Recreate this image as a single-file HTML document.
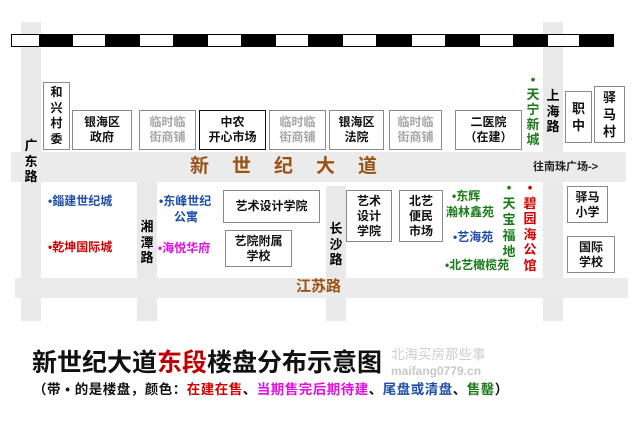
<!DOCTYPE html>
<html><head><meta charset="utf-8"><style>
body{margin:0;width:640px;height:434px;background:#fff;position:relative;overflow:hidden;font-family:"Liberation Sans","Noto Sans CJK SC",sans-serif;font-weight:bold}
div{position:absolute;box-sizing:border-box}
.r{background:#e9e9e9}
.b{border:1px solid #8a8a8a;background:#fff;font-size:12px;line-height:15px;text-align:center;display:flex;align-items:center;justify-content:center;color:#111}
.t{font-size:12px;line-height:15px;white-space:nowrap}
.v{font-size:13px;line-height:15.5px;text-align:center;width:20px}
.bl{color:#1f4ea8}.rd{color:#d00000}.gn{color:#1a7a1a}.mg{color:#e010e0}
</style></head><body>
<div class="r" style="left:21px;top:22px;width:20px;height:299px"></div>
<div class="r" style="left:543px;top:22px;width:20px;height:299px"></div>
<div class="r" style="left:137px;top:180px;width:20px;height:141px"></div>
<div class="r" style="left:326px;top:186px;width:20px;height:135px"></div>
<div class="r" style="left:11px;top:152px;width:615px;height:30px;background:#ebebeb"></div>
<div class="r" style="left:15px;top:278px;width:613px;height:20px;background:#ebebeb"></div>
<div style="left:11px;top:34px;width:603px;height:13px;background:#000"></div>
<div style="left:12px;top:35px;width:27px;height:11px;background:#fff"></div>
<div style="left:73px;top:35px;width:32px;height:11px;background:#fff"></div>
<div style="left:140px;top:35px;width:33px;height:11px;background:#fff"></div>
<div style="left:208px;top:35px;width:33px;height:11px;background:#fff"></div>
<div style="left:276px;top:35px;width:32px;height:11px;background:#fff"></div>
<div style="left:343px;top:35px;width:33px;height:11px;background:#fff"></div>
<div style="left:412px;top:35px;width:33px;height:11px;background:#fff"></div>
<div style="left:480px;top:35px;width:33px;height:11px;background:#fff"></div>
<div style="left:548px;top:35px;width:31px;height:11px;background:#fff"></div>
<div style="left:190px;top:155px;font-size:19px;line-height:24px;color:#9a5214;letter-spacing:23px;white-space:nowrap">新世纪大道</div>
<div style="left:296px;top:277px;font-size:15px;line-height:20px;color:#9a5214">江苏路</div>
<div class="v" style="left:21px;top:138px">广<br>东<br>路</div>
<div class="v" style="left:137px;top:219px">湘<br>潭<br>路</div>
<div class="v" style="left:326px;top:221px">长<br>沙<br>路</div>
<div class="v" style="left:543px;top:88px">上<br>海<br>路</div>
<div class="t" style="left:533px;top:160px;font-size:11px;color:#222">往南珠广场-&gt;</div>
<div class="b" style="left:43px;top:82px;width:27px;height:68px;line-height:15.5px">和<br>兴<br>村<br>委</div>
<div class="b" style="left:72px;top:110px;width:60px;height:40px">银海区<br>政府</div>
<div class="b" style="left:139px;top:110px;width:57px;height:40px;color:#a6a6a6">临时临<br>街商铺</div>
<div class="b" style="left:199px;top:110px;width:67px;height:40px;border-color:#111">中农<br>开心市场</div>
<div class="b" style="left:269px;top:110px;width:57px;height:40px;color:#a6a6a6">临时临<br>街商铺</div>
<div class="b" style="left:329px;top:110px;width:55px;height:40px">银海区<br>法院</div>
<div class="b" style="left:389px;top:110px;width:53px;height:40px;color:#a6a6a6">临时临<br>街商铺</div>
<div class="b" style="left:455px;top:110px;width:67px;height:40px">二医院<br>（在建）</div>
<div class="v gn" style="left:523px;top:72px;line-height:15px">•<br>天<br>宁<br>新<br>城</div>
<div class="b" style="left:565px;top:91px;width:27px;height:52px;font-size:13px;line-height:17px">职<br>中</div>
<div class="b" style="left:594px;top:86px;width:31px;height:57px;font-size:13px;line-height:17px">驿<br>马<br>村</div>
<div class="t bl" style="left:48px;top:194px">•錙建世纪城</div>
<div class="t rd" style="left:48px;top:240px">•乾坤国际城</div>
<div class="t bl" style="left:159px;top:194px">•东峰世纪</div>
<div class="t bl" style="left:174px;top:210px">公寓</div>
<div class="t mg" style="left:158px;top:241px">•海悦华府</div>
<div class="b" style="left:223px;top:190px;width:97px;height:33px">艺术设计学院</div>
<div class="b" style="left:225px;top:230px;width:67px;height:37px">艺院附属<br>学校</div>
<div class="b" style="left:346px;top:190px;width:46px;height:52px">艺术<br>设计<br>学院</div>
<div class="b" style="left:399px;top:190px;width:44px;height:52px">北艺<br>便民<br>市场</div>
<div class="t gn" style="left:452px;top:189px">•东辉</div>
<div class="t gn" style="left:446px;top:205px">瀚林鑫苑</div>
<div class="t bl" style="left:453px;top:230px">•艺海苑</div>
<div class="t gn" style="left:445px;top:258px">•北艺橄榄苑</div>
<div class="v gn" style="left:499px;top:180px;line-height:16px">•<br>天<br>宝<br>福<br>地</div>
<div class="v rd" style="left:520px;top:180px;line-height:15.5px">•<br>碧<br>园<br>海<br>公<br>馆</div>
<div class="b" style="left:567px;top:186px;width:41px;height:37px">驿马<br>小学</div>
<div class="b" style="left:567px;top:236px;width:48px;height:37px">国际<br>学校</div>
<div style="left:32px;top:348px;font-size:25px;line-height:30px;color:#111;white-space:nowrap">新世纪大道<span style="color:#c00000">东段</span>楼盘分布示意图</div>
<div style="left:391px;top:346px;font-size:13.5px;line-height:17px;color:#cfcfcf;font-weight:normal;white-space:nowrap">北海买房那些事</div>
<div style="left:391px;top:364px;font-size:12px;line-height:15px;color:#c8c8c8;white-space:nowrap">maifang0779.cn</div>
<div style="left:33px;top:381px;font-size:13.5px;line-height:17px;letter-spacing:0.5px;color:#111;white-space:nowrap">（带 • 的是楼盘，颜色：<span style="color:#d00000">在建在售</span>、<span style="color:#e010e0">当期售完后期待建</span>、<span style="color:#1f4ea8">尾盘或清盘</span>、<span style="color:#1a7a1a">售罄</span>）</div>
</body></html>
